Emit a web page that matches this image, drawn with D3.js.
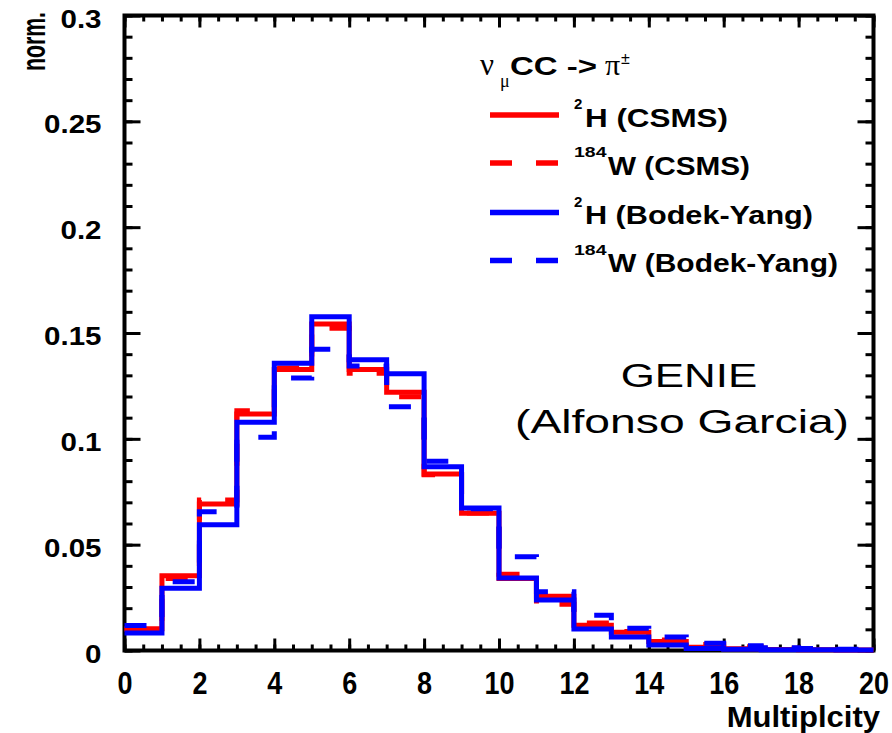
<!DOCTYPE html>
<html>
<head>
<meta charset="utf-8">
<script src="https://cdn.jsdelivr.net/npm/d3@7/dist/d3.min.js"></script>
<style>
body { margin: 0; background: #fff; }
svg { display: block; }
text { font-family: "Liberation Sans", Arial, Helvetica, sans-serif; }
</style>
</head>
<body>
<svg id="chart" width="892" height="733"></svg>
<script>
//*************** data ******************//

// lower edge of each multiplicity bin (bin width 1)
var binLow = [0, 1, 2, 3, 4, 5, 6, 7, 8, 9, 10, 11, 12, 13, 14, 15, 16, 17, 18, 19];
var binLast = 20;

// normalised multiplicity distributions, nu_mu CC -> pi+-
var h2Csms        = [0.0103, 0.0353, 0.0692, 0.1117, 0.1327, 0.1542, 0.1328, 0.1220, 0.0834, 0.0648, 0.0340, 0.0256, 0.0119, 0.0086, 0.0042, 0.0015, 0.0008, 0.0005, 0.0003, 0.0002];
var w184Csms      = [0.0100, 0.0340, 0.0711, 0.1133, 0.1335, 0.1522, 0.1310, 0.1199, 0.0830, 0.0650, 0.0360, 0.0218, 0.0130, 0.0090, 0.0050, 0.0028, 0.0018, 0.0011, 0.0007, 0.0005];
var h2BodekYang   = [0.0083, 0.0294, 0.0594, 0.1078, 0.1357, 0.1577, 0.1374, 0.1308, 0.0868, 0.0673, 0.0342, 0.0239, 0.0102, 0.0064, 0.0026, 0.0009, 0.0006, 0.0004, 0.0003, 0.0002];
var w184BodekYang = [0.0118, 0.0325, 0.0656, 0.1007, 0.1287, 0.1423, 0.1344, 0.1152, 0.0894, 0.0670, 0.0443, 0.0278, 0.0166, 0.0105, 0.0064, 0.0034, 0.0023, 0.0013, 0.0009, 0.0006];

// axis ticks
var xMajorTicks = [0, 2, 4, 6, 8, 10, 12, 14, 16, 18, 20];
var xTickLabels = ["0", "2", "4", "6", "8", "10", "12", "14", "16", "18", "20"];
var yMajorTicks = [0, 0.05, 0.1, 0.15, 0.2, 0.25, 0.3];
var yTickLabels = ["0", "0.05", "0.1", "0.15", "0.2", "0.25", "0.3"];

// legend
var legendSup   = ["2", "184", "2", "184"];
var legendText  = ["H (CSMS)", "W (CSMS)", "H (Bodek-Yang)", "W (Bodek-Yang)"];
var seriesColor = ["#ff0000", "#ff0000", "#0000ff", "#0000ff"];
var seriesDash  = [null, "22,24", null, "22,24"];
var seriesData  = [h2Csms, w184Csms, h2BodekYang, w184BodekYang];

//*************** canvas ******************//

var svg = d3.select("#chart");
svg.append("rect").attr("width", 892).attr("height", 733).attr("fill", "#fff");

var xScale = d3.scaleLinear().domain([0, 20]).range([124.5, 873.5]);
var yScale = d3.scaleLinear().domain([0, 0.3]).range([650.5, 15.5]);

var x0 = xScale(0), x1 = xScale(20), y0 = yScale(0), y1 = yScale(0.3);

//--------------- axes (ticks on all four sides, pointing inward)
var xMinor = d3.range(0, 20.01, 0.5);
var yMinor = d3.range(0, 0.3001, 0.01);

function styleAxis(g) {
    g.select(".domain").remove();
    g.selectAll("line").attr("stroke", "#000").attr("stroke-width", 3);
}

// left
svg.append("g").attr("transform", "translate(" + x0 + ",0)")
    .call(d3.axisLeft(yScale).tickValues(yMinor).tickSize(-8).tickFormat(""))
    .call(styleAxis);
var yAxisLeft = svg.append("g").attr("transform", "translate(" + x0 + ",0)")
    .call(d3.axisLeft(yScale).tickValues(yMajorTicks).tickSize(-16)
        .tickFormat(function(d, i) { return yTickLabels[i]; }))
    .call(styleAxis);
yAxisLeft.selectAll("text")
    .attr("x", null).attr("dy", null)
    .attr("transform", "translate(-23,11.5) scale(1.18,1)")
    .attr("text-anchor", "end")
    .attr("fill", "#000")
    .style("font-size", "25px").style("font-weight", "bold");

// right
svg.append("g").attr("transform", "translate(" + x1 + ",0)")
    .call(d3.axisRight(yScale).tickValues(yMinor).tickSize(-8).tickFormat(""))
    .call(styleAxis);
svg.append("g").attr("transform", "translate(" + x1 + ",0)")
    .call(d3.axisRight(yScale).tickValues(yMajorTicks).tickSize(-16).tickFormat(""))
    .call(styleAxis);

// bottom
svg.append("g").attr("transform", "translate(0," + y0 + ")")
    .call(d3.axisBottom(xScale).tickValues(xMinor).tickSize(-6).tickFormat(""))
    .call(styleAxis);
var xAxisBottom = svg.append("g").attr("transform", "translate(0," + y0 + ")")
    .call(d3.axisBottom(xScale).tickValues(xMajorTicks).tickSize(-12)
        .tickFormat(function(d, i) { return xTickLabels[i]; }))
    .call(styleAxis);
xAxisBottom.selectAll("text")
    .attr("y", null).attr("dy", null)
    .attr("transform", "translate(0,43.5) scale(0.87,1)")
    .attr("text-anchor", "middle")
    .attr("fill", "#000")
    .style("font-size", "31px").style("font-weight", "bold");

// top
svg.append("g").attr("transform", "translate(0," + y1 + ")")
    .call(d3.axisTop(xScale).tickValues(xMinor).tickSize(-6).tickFormat(""))
    .call(styleAxis);
svg.append("g").attr("transform", "translate(0," + y1 + ")")
    .call(d3.axisTop(xScale).tickValues(xMajorTicks).tickSize(-12).tickFormat(""))
    .call(styleAxis);

// frame
svg.append("rect")
    .attr("x", x0).attr("y", y1)
    .attr("width", x1 - x0).attr("height", y0 - y1)
    .attr("fill", "none").attr("stroke", "#000").attr("stroke-width", 4);

// axis titles
svg.append("text")
    .attr("transform", "translate(880,727) scale(1.07,1)")
    .attr("text-anchor", "end")
    .style("font-size", "29px").style("font-weight", "bold")
    .text("Multiplcity");

svg.append("text")
    .attr("transform", "translate(45,12) scale(1.35,1) rotate(-90)")
    .attr("text-anchor", "end")
    .attr("textLength", 59).attr("lengthAdjust", "spacingAndGlyphs")
    .style("font-size", "24px").style("font-weight", "bold")
    .text("norm.");

//--------------- histograms (step lines)
var stepLine = d3.line()
    .x(function(d) { return xScale(d[0]); })
    .y(function(d) { return yScale(d[1]); })
    .curve(d3.curveStepAfter);

var hists = svg.append("g").attr("class", "hists");
seriesData.forEach(function(values, s) {
    var pts = values.map(function(v, i) { return [binLow[i], v]; });
    pts.push([binLast, values[values.length - 1]]);
    hists.append("path")
        .datum(pts)
        .attr("fill", "none")
        .attr("stroke", seriesColor[s])
        .attr("stroke-width", 5)
        .attr("stroke-dasharray", seriesDash[s])
        .attr("d", stepLine);
});

//--------------- legend
var legend = svg.append("g").attr("class", "legend");
var serif = "'Liberation Serif', 'DejaVu Serif', serif";

// header: nu_mu CC -> pi+-
legend.append("text").attr("x", 480).attr("y", 75)
    .style("font-family", serif).style("font-size", "31px")
    .text("\u03bd");
legend.append("text").attr("x", 500).attr("y", 87)
    .style("font-family", serif).style("font-size", "18px")
    .text("\u03bc");
legend.append("text").attr("x", 510).attr("y", 75)
    .attr("textLength", 87).attr("lengthAdjust", "spacingAndGlyphs")
    .style("font-size", "26px").style("font-weight", "bold")
    .text("CC ->");
legend.append("text").attr("x", 605).attr("y", 75)
    .style("font-family", serif).style("font-size", "30px")
    .text("\u03c0");
legend.append("text").attr("x", 621).attr("y", 64)
    .style("font-size", "16px")
    .text("\u00b1");

var rowY   = [115, 163, 212.5, 260.5];
var textW  = [143, 142, 228, 230];
legendText.forEach(function(label, i) {
    var cy = rowY[i];
    legend.append("line")
        .attr("x1", 490).attr("x2", 559)
        .attr("y1", cy).attr("y2", cy)
        .attr("stroke", seriesColor[i])
        .attr("stroke-width", 5.5)
        .attr("stroke-dasharray", seriesDash[i]);
    var single = legendSup[i].length === 1;
    legend.append("text")
        .attr("transform", "translate(574," + (cy - 6) + ") scale(" + (single ? 1.0 : 1.3) + ",1)")
        .style("font-size", "15px").style("font-weight", "bold")
        .text(legendSup[i]);
    legend.append("text")
        .attr("x", single ? 585 : 608).attr("y", cy + 11.5)
        .attr("textLength", textW[i]).attr("lengthAdjust", "spacingAndGlyphs")
        .style("font-size", "26px").style("font-weight", "bold")
        .text(label);
});

//--------------- annotation
svg.append("text")
    .attr("transform", "translate(689,387) scale(1.33,1)")
    .attr("text-anchor", "middle")
    .style("font-size", "33px")
    .text("GENIE");
svg.append("text")
    .attr("transform", "translate(682,433) scale(1.36,1)")
    .attr("text-anchor", "middle")
    .style("font-size", "34px")
    .text("(Alfonso Garcia)");
</script>
</body>
</html>
